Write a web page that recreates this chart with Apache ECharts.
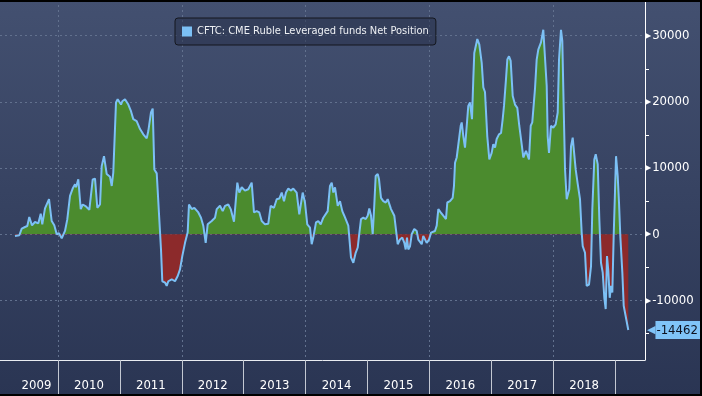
<!DOCTYPE html>
<html>
<head>
<meta charset="utf-8">
<script src="https://cdn.jsdelivr.net/npm/echarts@6/dist/echarts.min.js"></script>
<style>
html, body { margin: 0; padding: 0; background: #000; }
#main { width: 702px; height: 396px; }
</style>
</head>
<body>
<div id="main"></div>
<script>
// weekly-ish readings, x as decimal year
var seriesName = 'CFTC: CME Ruble Leveraged funds Net Position';
var dates = [
    2009.305, 2009.375, 2009.414, 2009.467, 2009.504, 2009.536, 2009.580, 2009.628, 2009.682, 2009.721,
    2009.746, 2009.790, 2009.855, 2009.898, 2009.940, 2009.979, 2010.016, 2010.060, 2010.113, 2010.150,
    2010.194, 2010.237, 2010.275, 2010.291, 2010.328, 2010.367, 2010.399, 2010.452, 2010.506, 2010.561,
    2010.598, 2010.635, 2010.679, 2010.706, 2010.743, 2010.787, 2010.840, 2010.868, 2010.893, 2010.937,
    2010.964, 2011.018, 2011.039, 2011.082, 2011.136, 2011.179, 2011.216, 2011.271, 2011.325, 2011.378,
    2011.433, 2011.459, 2011.502, 2011.530, 2011.556, 2011.595, 2011.620, 2011.664, 2011.685, 2011.729,
    2011.756, 2011.782, 2011.837, 2011.890, 2011.934, 2011.971, 2012.008, 2012.052, 2012.095, 2012.116,
    2012.160, 2012.202, 2012.267, 2012.310, 2012.347, 2012.386, 2012.418, 2012.483, 2012.536, 2012.564,
    2012.617, 2012.661, 2012.698, 2012.751, 2012.790, 2012.843, 2012.897, 2012.929, 2012.968, 2013.021,
    2013.074, 2013.129, 2013.166, 2013.210, 2013.252, 2013.291, 2013.344, 2013.397, 2013.436, 2013.489,
    2013.533, 2013.575, 2013.614, 2013.651, 2013.683, 2013.721, 2013.759, 2013.801, 2013.856, 2013.898,
    2013.953, 2013.990, 2014.027, 2014.071, 2014.098, 2014.124, 2014.168, 2014.205, 2014.244, 2014.286,
    2014.313, 2014.357, 2014.394, 2014.422, 2014.448, 2014.475, 2014.519, 2014.556, 2014.593, 2014.625,
    2014.648, 2014.690, 2014.733, 2014.771, 2014.809, 2014.842, 2014.863, 2014.895, 2014.932, 2014.971,
    2015.003, 2015.029, 2015.057, 2015.084, 2015.110, 2015.132, 2015.165, 2015.186, 2015.218, 2015.255,
    2015.294, 2015.326, 2015.352, 2015.380, 2015.433, 2015.456, 2015.488, 2015.525, 2015.562, 2015.595,
    2015.617, 2015.638, 2015.659, 2015.687, 2015.714, 2015.756, 2015.795, 2015.821, 2015.848, 2015.876,
    2015.901, 2015.929, 2015.956, 2015.994, 2016.026, 2016.053, 2016.090, 2016.118, 2016.144, 2016.182,
    2016.224, 2016.268, 2016.289, 2016.333, 2016.376, 2016.397, 2016.414, 2016.441, 2016.467, 2016.506,
    2016.522, 2016.548, 2016.575, 2016.603, 2016.628, 2016.656, 2016.672, 2016.688, 2016.709, 2016.725,
    2016.753, 2016.774, 2016.806, 2016.845, 2016.871, 2016.898, 2016.935, 2016.968, 2017.006, 2017.032,
    2017.060, 2017.087, 2017.124, 2017.157, 2017.184, 2017.205, 2017.237, 2017.259, 2017.286, 2017.313,
    2017.346, 2017.383, 2017.420, 2017.452, 2017.491, 2017.517, 2017.561, 2017.582, 2017.609, 2017.637,
    2017.662, 2017.706, 2017.733, 2017.759, 2017.803, 2017.840, 2017.868, 2017.895, 2017.911, 2017.932,
    2017.964, 2018.002, 2018.040, 2018.073, 2018.094, 2018.126, 2018.147, 2018.170, 2018.191, 2018.218,
    2018.244, 2018.260, 2018.288, 2018.315, 2018.341, 2018.363, 2018.396, 2018.433, 2018.460, 2018.477,
    2018.514, 2018.541, 2018.578, 2018.611, 2018.632, 2018.664, 2018.687, 2018.719, 2018.745, 2018.772,
    2018.800, 2018.826, 2018.848, 2018.869, 2018.890, 2018.913, 2018.934, 2018.955, 2018.977, 2018.998,
    2019.015, 2019.042, 2019.063, 2019.084, 2019.117, 2019.139, 2019.171, 2019.213
];
var values = [
    -250, -150, 850, 1100, 1250, 2600, 1350, 1850, 1650, 3100,
    1500, 3900, 5300, 2000, 1350, 0, 150, -600, 500, 2250,
    5800, 6900, 7550, 7100, 8300, 3800, 4500, 4200, 3700, 8300,
    8400, 4000, 4500, 10300, 11800, 9100, 8700, 7300, 9300, 19900,
    20400, 19600, 20100, 20400, 19600, 18600, 17400, 17100, 15900, 15100,
    14500, 15600, 18400, 19000, 9800, 9200, 8900, -2300, -7100, -7300,
    -7800, -7100, -6800, -7100, -6300, -5300, -3300, -1300, 300, 4500,
    3800, 4000, 3300, 2500, 1300, -1300, 1500, 2000, 2500, 3800,
    4300, 3500, 4300, 4500, 3800, 1900, 7800, 6300, 7100, 6600,
    6800, 7800, 3300, 3500, 3300, 2000, 1500, 1600, 4300, 4000,
    5300, 5400, 6300, 5000, 6300, 6900, 6600, 6900, 6300, 3000,
    6300, 4800, 1500, 1000, -1500, -500, 1800, 2000, 1500, 2500,
    2800, 3500, 7300, 7800, 6300, 7100, 4300, 5000, 3500, 2800,
    3000, 1300, -3500, -4300, -2800, -2000, -250, 2300, 2500, 2300,
    2800, 3900, 2800, 0, 4500, 8800, 9100, 8300, 5500, 5000,
    4800, 5300, 5500, 3800, 2800, 1000, -1500, -800, -500, -1300,
    -2300, -500, -2300, -1800, 0, 800, 500, -800, -500, -1500,
    -250, -500, -1300, -800, 250, 500, 500, 1300, 3800, 3300,
    2800, 2300, 4800, 5000, 5500, 7300, 10800, 11600, 11800, 16400,
    16900, 14800, 13100, 16400, 19400, 19900, 20000, 17400, 23400, 27400,
    27400, 29500, 28700, 25900, 22200, 21500, 14800, 11300, 12300, 13600,
    13100, 14400, 15100, 15300, 17400, 19400, 23400, 26400, 26900, 26200,
    20900, 19600, 19100, 16400, 13600, 11600, 12600, 12600, 11300, 16400,
    16900, 22000, 26400, 27900, 29000, 30900, 30700, 22400, 14800, 12300,
    16400, 16100, 16600, 18400, 26400, 30900, 29200, 18900, 9800, 5300,
    5000, 6800, 13300, 14600, 14400, 9800, 7600, 5300, 250, -1800,
    -2800, -7800, -7600, -4800, 3800, 11300, 12100, 10600, 2300, -4300,
    -5800, -9600, -11300, -3300, -5500, -9600, -7800, -8800, -250, 6300,
    11800, 8800, 4800, -250, -5800, -10800, -11100, -14462
];
var yTicks = [-15000, -10000, -5000, 0, 5000, 10000, 15000, 20000, 25000, 30000];
var yLabels = [-10000, 0, 10000, 20000, 30000];
var yearTicks = [2010, 2011, 2012, 2013, 2014, 2015, 2016, 2017, 2018, 2019];
var gridYears = [2010, 2012, 2014, 2016, 2018];
var xMin = 2009.063, xMax = 2019.483;
var yMin = -19000, yMax = 35400;

var fontNarrow = '"DejaVu Sans Condensed", "DejaVu Sans", sans-serif';
var lineColor = '#7cc0f5';
var posColor = '#4b8b2e';
var negColor = '#8c2a2b';
var lastValue = values[values.length - 1];

// centre each year label on the part of the year that has data
var yearLabelPos = [];
for (var y = 2009; y <= 2019; y++) {
    var a = Math.max(y, dates[0]);
    var b = Math.min(y + 1, dates[dates.length - 1]);
    if (b - a >= 0.5) yearLabelPos.push((a + b) / 2);
}

var chart = echarts.init(document.getElementById('main'));
var option = {
    backgroundColor: {
        type: 'linear', x: 0, y: 0, x2: 0, y2: 1,
        colorStops: [{ offset: 0, color: '#435070' }, { offset: 1, color: '#2a3553' }]
    },
    animation: false,
    grid: { left: 0, right: 57, top: 0, bottom: 36, outerBoundsMode: 'none', containLabel: false },
    legend: {
        left: 175, top: 18,
        padding: [8, 7, 8, 7],
        itemWidth: 10, itemHeight: 10,
        backgroundColor: 'rgba(40,50,74,0.55)',
        borderColor: '#14171e', borderWidth: 1, borderRadius: 3,
        textStyle: { color: '#eef0f4', fontSize: 11, fontFamily: fontNarrow },
        data: [{ name: seriesName, icon: 'rect', itemStyle: { color: lineColor, borderWidth: 0 } }]
    },
    xAxis: [{
        type: 'value', min: xMin, max: xMax, position: 'bottom',
        axisLine: { onZero: false, lineStyle: { color: '#e9ecf1', width: 1 } },
        axisTick: { customValues: yearTicks, length: 36, lineStyle: { color: '#c3c8d2' } },
        axisLabel: {
            customValues: yearLabelPos, margin: 19, color: '#ffffff',
            fontSize: 13, fontFamily: fontNarrow,
            formatter: function (v) { return String(Math.floor(v)); }
        },
        splitLine: { show: false }
    }, {
        type: 'value', min: xMin, max: xMax, position: 'top',
        axisLine: { show: false }, axisLabel: { show: false },
        axisTick: { show: false, customValues: gridYears },
        splitLine: { show: true, customValues: gridYears, lineStyle: { color: '#62718e', type: [2, 3] } }
    }],
    yAxis: [{
        type: 'value', min: yMin, max: yMax, position: 'right',
        axisLine: { show: true, lineStyle: { color: '#ffffff', width: 1 } },
        axisTick: { show: true, customValues: yTicks, length: 4, inside: false, lineStyle: { color: '#ffffff' } },
        axisLabel: {
            customValues: yLabels, margin: 0, color: '#ffffff',
            fontSize: 13, fontFamily: fontNarrow,
            formatter: function (v) { return '{t|\u25B6}' + v; },
            rich: { t: { fontSize: 8, color: '#ffffff', padding: [0, 1, 0, 0], fontFamily: 'DejaVu Sans' } }
        },
        splitLine: { show: false }
    }, {
        type: 'value', min: yMin, max: yMax, position: 'left',
        axisLine: { show: false }, axisLabel: { show: false },
        axisTick: { show: false, customValues: yLabels },
        splitLine: { show: true, customValues: yLabels, lineStyle: { color: '#62718e', type: [2, 3] } }
    }, {
        type: 'value', min: yMin, max: yMax, position: 'right',
        axisLine: { show: false }, axisTick: { show: false }, splitLine: { show: false },
        axisLabel: {
            customValues: [lastValue], margin: 2,
            formatter: function (v) { return '{a|\u25C0}{b|' + Math.round(v) + '}'; },
            rich: {
                a: { color: '#80c4f8', fontSize: 11, fontFamily: 'DejaVu Sans' },
                b: {
                    color: '#0d1220', fontSize: 13, fontFamily: fontNarrow,
                    backgroundColor: '#80c4f8', padding: [3, 3, 2, 1]
                }
            }
        }
    }],
    series: [{
        name: seriesName,
        type: 'line',
        xAxisIndex: 0, yAxisIndex: 0,
        data: dates.map(function (d, i) { return [d, values[i]]; }),
        showSymbol: false,
        symbol: 'none',
        lineStyle: { color: lineColor, width: 2 },
        itemStyle: { color: lineColor },
        areaStyle: { opacity: 1, color: posColor },
        z: 3
    }],
    graphic: [{
        type: 'polyline', silent: true, z: 100,
        shape: { points: [[0, 1], [701, 1], [701, 395], [0, 395]] },
        style: { stroke: '#000', lineWidth: 2, fill: null }
    }]
};
chart.setOption(option);

// split the fill colour at the zero line of the value axis
var zeroY = chart.convertToPixel({ yAxisIndex: 0 }, 0);
var chartH = chart.getHeight();
chart.setOption({
    series: [{
        areaStyle: {
            opacity: 1,
            color: {
                type: 'linear', global: true, x: 0, y: 0, x2: 0, y2: chartH,
                colorStops: [
                    { offset: 0, color: posColor },
                    { offset: zeroY / chartH, color: posColor },
                    { offset: zeroY / chartH, color: negColor },
                    { offset: 1, color: negColor }
                ]
            }
        }
    }]
});
</script>
</body>
</html>
